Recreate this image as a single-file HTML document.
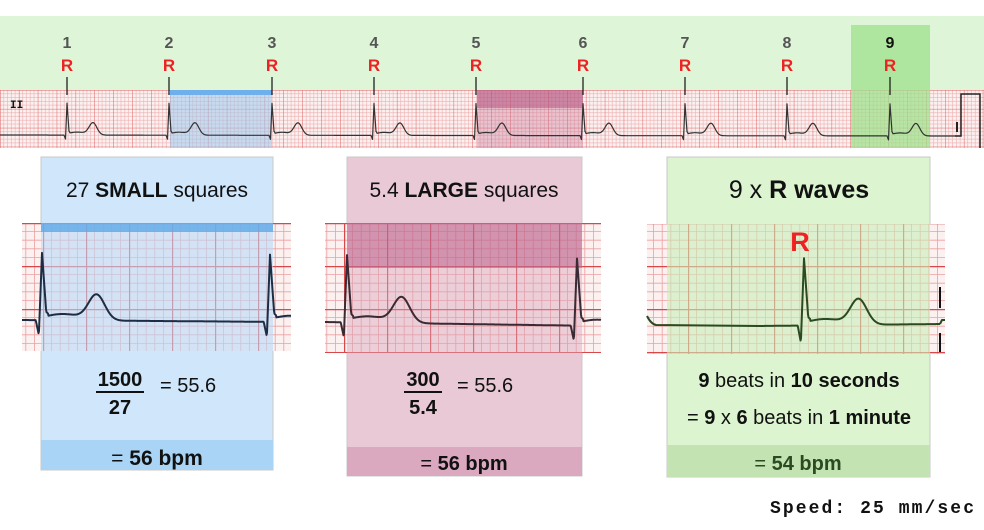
<!DOCTYPE html><html><head><meta charset="utf-8"><style>
body{margin:0;background:#fff;width:984px;height:530px;overflow:hidden}
svg{display:block}
.sans{font-family:"Liberation Sans",sans-serif}
.mono{font-family:"Liberation Mono",monospace}
</style></head><body>
<svg id="s" width="984" height="530" xmlns="http://www.w3.org/2000/svg" class="sans">
<defs>
<pattern id="g1" x="0" y="90" width="18.9" height="18.9" patternUnits="userSpaceOnUse">
<rect width="18.9" height="18.9" fill="#fbf1f1"/>
<path d="M3.78 0V18.9M7.56 0V18.9M11.34 0V18.9M15.12 0V18.9M0 3.78H18.9M0 7.56H18.9M0 11.34H18.9M0 15.12H18.9" stroke="#eeb0b0" stroke-width="0.6"/>
<path d="M0 0V18.9M0 0H18.9" stroke="#e06060" stroke-width="1"/>
</pattern>
<pattern id="g2" x="0" y="223" width="43" height="43" patternUnits="userSpaceOnUse">
<rect width="43" height="43" fill="#fbf1f1"/>
<path d="M8.6 0V43M17.2 0V43M25.8 0V43M34.4 0V43M0 8.6H43M0 17.2H43M0 25.8H43M0 34.4H43" stroke="#eca0a0" stroke-width="0.8"/>
<path d="M0.5 0V43M0 0.5H43" stroke="#d84848" stroke-width="1.4"/>
</pattern>
</defs>
<rect x="0" y="16" width="984" height="74" fill="#def5d8"/>
<rect x="0" y="90" width="984" height="58" fill="url(#g1)"/>
<rect x="170" y="90" width="102" height="58" fill="#9cc9ef" opacity="0.55"/>
<rect x="170" y="90" width="102" height="5" fill="#6fb0ec"/>
<rect x="477" y="90" width="106" height="58" fill="#c46d92" opacity="0.35"/>
<rect x="477" y="90" width="106" height="18" fill="#b04a78" opacity="0.5"/>
<rect x="851" y="25" width="79" height="123" fill="#9fe08c" opacity="0.75"/>
<text x="10" y="108" class="mono" font-weight="bold" font-size="11" fill="#111">II</text>
<g id="top"></g>
<path d="M955 136H961V94H980V148" fill="none" stroke="#222" stroke-width="1.5"/>
<path d="M957 122V132" stroke="#222" stroke-width="2"/>

<rect x="41" y="157" width="232" height="313" fill="#cfe6fb" stroke="#c8c8c8"/>
<rect x="41" y="440" width="232" height="30" fill="#a9d4f5"/>
<rect x="347" y="157" width="235" height="319" fill="#e9c9d6" stroke="#c8c8c8"/>
<rect x="347" y="447" width="235" height="29" fill="#dba9bf"/>
<rect x="667" y="157" width="263" height="320" fill="#dcf4d0" stroke="#c8c8c8"/>
<rect x="667" y="445" width="263" height="32" fill="#c3e4b2"/>

<rect x="22" y="223" width="269" height="128" fill="url(#g2)"/>
<rect x="41" y="223" width="232" height="128" fill="#b9dbf8" opacity="0.6"/>
<rect x="41" y="223" width="232" height="9" fill="#5fa9ea" opacity="0.8"/>
<rect x="325" y="223" width="276" height="130" fill="url(#g2)"/>
<rect x="347" y="223" width="235" height="130" fill="#d9a4bb" opacity="0.45"/>
<rect x="347" y="223" width="235" height="45" fill="#b24c7c" opacity="0.45"/>
<rect x="647" y="224" width="298" height="130" fill="url(#g2)"/>
<rect x="667" y="224" width="263" height="130" fill="#c8eeb8" opacity="0.6"/>
<g id="ins"></g>

<g font-weight="bold" text-anchor="middle" id="nums"></g>

<text x="157" y="197" font-size="21" text-anchor="middle" fill="#111">27 <tspan font-weight="bold">SMALL</tspan> squares</text>
<text x="120" y="386" font-size="20" font-weight="bold" text-anchor="middle" fill="#111">1500</text>
<path d="M96 392H144" stroke="#111" stroke-width="2"/>
<text x="120" y="414" font-size="20" font-weight="bold" text-anchor="middle" fill="#111">27</text>
<text x="160" y="392" font-size="20" fill="#111">= 55.6</text>
<text x="157" y="465" font-size="21" text-anchor="middle" fill="#111">= <tspan font-weight="bold">56 bpm</tspan></text>

<text x="464" y="197" font-size="21" text-anchor="middle" fill="#111">5.4 <tspan font-weight="bold">LARGE</tspan> squares</text>
<text x="423" y="386" font-size="20" font-weight="bold" text-anchor="middle" fill="#111">300</text>
<path d="M404 392H442" stroke="#111" stroke-width="2"/>
<text x="423" y="414" font-size="20" font-weight="bold" text-anchor="middle" fill="#111">5.4</text>
<text x="457" y="392" font-size="20" fill="#111">= 55.6</text>
<text x="464" y="470" font-size="20" text-anchor="middle" fill="#111">= <tspan font-weight="bold">56 bpm</tspan></text>

<text x="799" y="198" font-size="25" text-anchor="middle" fill="#111">9 x <tspan font-weight="bold">R waves</tspan></text>
<text x="800" y="251" font-size="27" font-weight="bold" text-anchor="middle" fill="#ee2222">R</text>
<text x="799" y="387" font-size="20" text-anchor="middle" fill="#111"><tspan font-weight="bold">9</tspan> beats in <tspan font-weight="bold">10 seconds</tspan></text>
<text x="799" y="424" font-size="20" text-anchor="middle" fill="#111">= <tspan font-weight="bold">9</tspan> x <tspan font-weight="bold">6</tspan> beats in <tspan font-weight="bold">1 minute</tspan></text>
<text x="798" y="470" font-size="20" text-anchor="middle" fill="#2a4a22">= <tspan font-weight="bold">54 bpm</tspan></text>

<text x="770" y="513" class="mono" font-weight="bold" font-size="18" textLength="204" lengthAdjust="spacing" fill="#111">Speed: 25 mm/sec</text>
</svg>
<script>
var NS="http://www.w3.org/2000/svg";
function lerp(a,b,f){return a+(b-a)*f}
function shape(t,q){
 if(t<-3||t>50)return 0;
 if(t<-1.5)return lerp(0,q,(t+3)/1.5);
 if(t<0)return lerp(q,-32,(t+1.5)/1.5);
 if(t<2)return lerp(-32,-4,t/2);
 if(t<3)return lerp(-4,-3,t-2);
 return -3*Math.exp(-Math.pow((t-10)/12,2)) - 12*Math.exp(-Math.pow((t-26)/5.5,2));
}
function ecg(x0,x1,b0,b1,rs,s,sy,q){
 var pts=[];
 for(var x=x0;x<=x1;x+=0.5){
  var y=lerp(b0,b1,(x-x0)/(x1-x0));
  rs.forEach(function(r){y+=shape((x-r)/s,q)*sy;});
  pts.push(x.toFixed(1)+" "+y.toFixed(1));
 }
 return "M"+pts.join(" L");
}
function path(g,d,c,w){var p=document.createElementNS(NS,"path");p.setAttribute("d",d);p.setAttribute("fill","none");p.setAttribute("stroke",c);p.setAttribute("stroke-width",w);p.setAttribute("stroke-linejoin","round");document.getElementById(g).appendChild(p);}
var R=[67,169,272,374,476,583,685,787,890];
path("top",ecg(0,955,135,136,R,1,1,4),"#333",1.2);
var n=document.getElementById("nums");
R.forEach(function(x,i){
 var t=document.createElementNS(NS,"text");t.setAttribute("x",x);t.setAttribute("y",48);t.setAttribute("font-size","16");t.setAttribute("fill",i==8?"#111":"#555");t.textContent=i+1;n.appendChild(t);
 var r=document.createElementNS(NS,"text");r.setAttribute("x",x);r.setAttribute("y",71);r.setAttribute("fill","#ee2222");r.setAttribute("font-size","17");r.textContent="R";n.appendChild(r);
 path("top","M"+x+" 77V95","#111",1.2);
});
path("ins",ecg(22,291,320,322,[42,270],2.1,2.1,7),"#1d2d44",2);
path("ins",ecg(325,601,322,326,[347,577],2.1,2.1,7),"#3a2a33",2);
path("ins","M647 316 Q651 324 656 325 L760 326","#2a4a22",2);
path("ins",ecg(760,940,326,324,[804],2.1,2.1,8),"#2a4a22",2);
path("ins","M940 324 L942 320 L945 320","#2a4a22",2);
path("ins","M940 287V308M940 333V352","#111",2);
</script>
</body></html>
